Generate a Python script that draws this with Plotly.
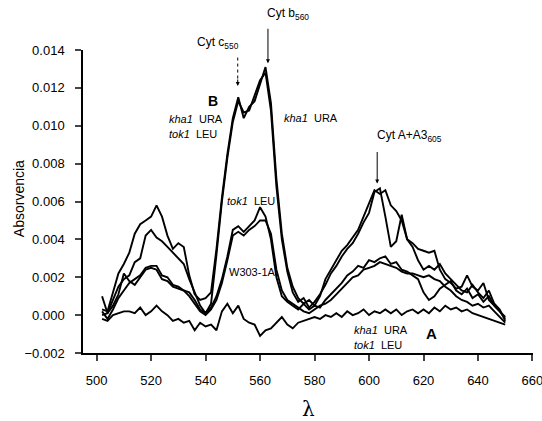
import plotly.graph_objects as go

wavelength = list(range(502, 651, 2))

kha1_tok1_B = [0.0003, 0.0002, 0.0012, 0.0022, 0.0027, 0.0033, 0.0043, 0.0048, 0.0050, 0.0052,
               0.0058, 0.0052, 0.0042, 0.0035, 0.0038, 0.0036, 0.0021, 0.0011, 0.0008, 0.0009,
               0.0012, 0.0035, 0.0062, 0.0085, 0.0104, 0.0115, 0.0104, 0.0110, 0.0113, 0.0122,
               0.0131, 0.0112, 0.0072, 0.0043, 0.0025, 0.0015, 0.0009, 0.0006, 0.0008, 0.0005,
               0.0010, 0.0019, 0.0024, 0.0029, 0.0034, 0.0037, 0.0041, 0.0045, 0.0052, 0.0059,
               0.0066, 0.0064, 0.0066, 0.0058, 0.0055, 0.0050, 0.0040, 0.0038, 0.0035, 0.0034,
               0.0033, 0.0034, 0.0024, 0.0019, 0.0017, 0.0014, 0.0015, 0.0021, 0.0015, 0.0013,
               0.0017, 0.0008, 0.0005, 0.0002, -0.0002]

kha1_ura = [0.0000, 0.0001, 0.0008, 0.0015, 0.0019, 0.0021, 0.0028, 0.0030, 0.0042, 0.0045,
            0.0041, 0.0039, 0.0036, 0.0033, 0.0030, 0.0027, 0.0019, 0.0012, 0.0005, 0.0001,
            0.0006, 0.0032, 0.0060, 0.0083, 0.0102, 0.0113, 0.0107, 0.0108, 0.0116, 0.0124,
            0.0128, 0.0108, 0.0068, 0.0040, 0.0023, 0.0012, 0.0007, 0.0009, 0.0004, 0.0007,
            0.0011, 0.0016, 0.0022, 0.0026, 0.0031, 0.0035, 0.0038, 0.0043, 0.0049, 0.0054,
            0.0065, 0.0067, 0.0052, 0.0036, 0.0039, 0.0053, 0.0040, 0.0036, 0.0029, 0.0024,
            0.0026, 0.0024, 0.0027, 0.0022, 0.0019, 0.0016, 0.0013, 0.0012, 0.0016, 0.0012,
            0.0009, 0.0013, 0.0006, 0.0003, -0.0003]

tok1_leu = [0.0002, -0.0002, 0.0003, 0.0009, 0.0013, 0.0017, 0.0019, 0.0021, 0.0025, 0.0026,
            0.0026, 0.0021, 0.0020, 0.0016, 0.0015, 0.0013, 0.0012, 0.0008, 0.0003, 0.0001,
            0.0004, 0.0010, 0.0019, 0.0031, 0.0045, 0.0047, 0.0044, 0.0047, 0.0050, 0.0057,
            0.0052, 0.0040, 0.0020, 0.0010, 0.0007, 0.0005, 0.0003, 0.0006, 0.0003, 0.0005,
            0.0004, 0.0008, 0.0011, 0.0014, 0.0017, 0.0021, 0.0023, 0.0026, 0.0025, 0.0029,
            0.0028, 0.0030, 0.0031, 0.0027, 0.0028, 0.0024, 0.0023, 0.0021, 0.0019, 0.0012,
            0.0008, 0.0010, 0.0014, 0.0016, 0.0018, 0.0013, 0.0011, 0.0014, 0.0009, 0.0011,
            0.0007, 0.0010, 0.0005, 0.0002, -0.0001]

w303_1a = [0.0010, 0.0001, 0.0005, 0.0011, 0.0022, 0.0018, 0.0016, 0.0020, 0.0024, 0.0025,
           0.0024, 0.0019, 0.0018, 0.0015, 0.0014, 0.0013, 0.0010, 0.0006, 0.0002, 0.0000,
           0.0003, 0.0008, 0.0017, 0.0029, 0.0042, 0.0044, 0.0042, 0.0045, 0.0047, 0.0050,
           0.0050, 0.0043, 0.0024, 0.0013, 0.0008, 0.0006, 0.0004, 0.0002, 0.0001, 0.0003,
           0.0005, 0.0006, 0.0008, 0.0011, 0.0014, 0.0017, 0.0020, 0.0021, 0.0024, 0.0025,
           0.0026, 0.0028, 0.0027, 0.0026, 0.0025, 0.0023, 0.0022, 0.0022, 0.0021, 0.0020,
           0.0021, 0.0019, 0.0018, 0.0015, 0.0013, 0.0010, 0.0008, 0.0007, 0.0005, 0.0006,
           0.0004, 0.0005, 0.0002, -0.0001, -0.0004]

kha1_tok1_A = [-0.0002, -0.0003, 0.0000, 0.0001, 0.0002, 0.0002, 0.0001, 0.0004, 0.0000, 0.0002,
               0.0005, 0.0002, 0.0000, -0.0003, -0.0002, -0.0004, -0.0003, -0.0008, -0.0004, -0.0006,
               -0.0005, -0.0008, 0.0002, 0.0006, 0.0001, 0.0005, -0.0002, -0.0004, -0.0005, -0.0011,
               -0.0008, -0.0007, -0.0004, -0.0001, -0.0005, -0.0007, -0.0004, -0.0003, -0.0002, -0.0001,
               -0.0002, 0.0000, -0.0001, 0.0001, -0.0001, 0.0002, 0.0000, 0.0001, 0.0003, 0.0000,
               0.0002, 0.0001, 0.0003, 0.0001, 0.0003, 0.0000, 0.0002, 0.0003, 0.0001, 0.0003,
               0.0001, 0.0004, 0.0002, 0.0005, 0.0003, 0.0004, 0.0002, 0.0003, 0.0001, 0.0000,
               -0.0001, -0.0002, -0.0003, -0.0004, -0.0005]

x_ticks = [500, 520, 540, 560, 580, 600, 620, 640, 660]
y_ticks = [-0.002, 0.000, 0.002, 0.004, 0.006, 0.008, 0.010, 0.012, 0.014]

series = [kha1_tok1_B, kha1_ura, tok1_leu, w303_1a, kha1_tok1_A]

FONT = "Liberation Sans, Arial, sans-serif"
fig = go.Figure()
for s in series:
    fig.add_trace(go.Scatter(x=wavelength, y=s, mode="lines",
                             line=dict(color="black", width=1.9), showlegend=False))

ann = []
def txt(x, y, t, size=11, xref="x", yref="y", xanchor="center", **kw):
    ann.append(dict(x=x, y=y, text=t, xref=xref, yref=yref, showarrow=False,
                    xanchor=xanchor, yanchor="middle",
                    font=dict(family=FONT, size=size, color="black"), **kw))

txt(544.5, 1.023, "Cyt c<sub>550</sub>", size=12, yref="paper")
txt(570.2, 1.12, "Cyt b<sub>560</sub>", size=12, yref="paper")
txt(615.0, 0.00947, "Cyt A+A3<sub>605</sub>", size=12)
txt(542.6, 0.01132, "<b>B</b>", size=14)
txt(525.7, 0.01037, "<i>kha1</i>  URA", xanchor="left")
txt(525.7, 0.00958, "<i>tok1</i>  LEU", xanchor="left")
txt(568.0, 0.01042, "<i>kha1</i>  URA", xanchor="left")
txt(547.1, 0.00605, "<i>tok1</i>  LEU", xanchor="left")
txt(547.8, 0.00226, "W303-1A", xanchor="left")
txt(593.8, -0.00079, "<i>kha1</i>  URA", xanchor="left")
txt(593.8, -0.00158, "<i>tok1</i>  LEU", xanchor="left")
txt(622.8, -0.00095, "<b>A</b>", size=15)
txt(-0.142, 0.508, "Absorvencia", size=14, xref="paper", yref="paper", textangle=-90)
txt(0.502, -0.185, "λ", size=20, xref="paper", yref="paper")
ann[-1]["font"]["family"] = "DejaVu Serif, serif"

# arrows
ann.append(dict(x=562.9, y=0.0133, xref="x", yref="y", text="", showarrow=True,
                ax=0, ay=-36, arrowhead=2, arrowsize=0.8, arrowwidth=1, arrowcolor="black"))
ann.append(dict(x=603.0, y=0.00695, xref="x", yref="y", text="", showarrow=True,
                ax=0, ay=-33, arrowhead=2, arrowsize=0.8, arrowwidth=1, arrowcolor="black"))
ann.append(dict(x=551.8, y=0.0121, xref="x", yref="y", text="", showarrow=True,
                ax=0, ay=-8, arrowhead=2, arrowsize=0.8, arrowwidth=1, arrowcolor="black"))

shapes = [dict(type="line", xref="x", yref="y", x0=551.8, x1=551.8, y0=0.0136, y1=0.0123,
               line=dict(color="black", width=1, dash="dot"))]

fig.update_layout(
    width=542, height=421,
    margin=dict(l=83, r=9, t=50, b=68, autoexpand=False),
    paper_bgcolor="white", plot_bgcolor="white",
    font=dict(family=FONT, size=13, color="black"),
    annotations=ann, shapes=shapes,
    xaxis=dict(range=[495, 660.2], tickvals=x_ticks, ticks="outside", ticklen=6, tickwidth=1.5,
               showline=True, linecolor="black", linewidth=1.5, showgrid=False, zeroline=False,
               automargin=False, ticklabeloverflow="allow", ticklabelstandoff=9,
               tickfont=dict(size=13)),
    yaxis=dict(range=[-0.002, 0.014], tickvals=y_ticks, tickformat=".3f", ticks="outside",
               ticklen=6, tickwidth=1.5, showline=True, linecolor="black", linewidth=1.5,
               showgrid=False, zeroline=False, automargin=False, ticklabelstandoff=8,
               tickfont=dict(size=13)),
)

fig.write_html("out.html", config={"displayModeBar": False},
               post_script="document.body.style.margin='0';document.body.style.overflow='hidden';")
